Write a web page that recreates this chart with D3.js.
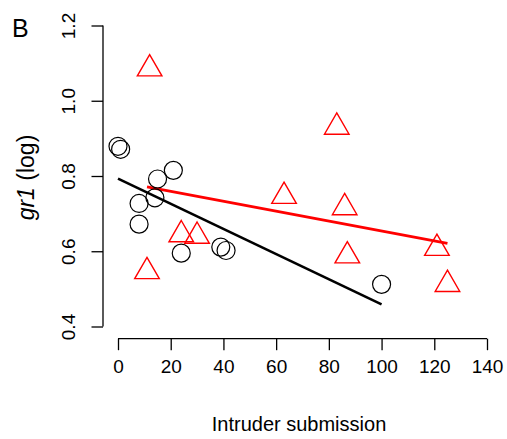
<html><head>
<script src="https://d3js.org/d3.v7.min.js"></script>
<style>
  body { margin: 0; background: #fff; }
  text { font-family: "Liberation Sans", Arial, sans-serif; }
</style>
</head>
<body>
<svg id="chart" width="507" height="439"></svg>
<script>
// submission (x) and gr1 (log) values
const circleX = [0, 1, 21, 15, 14, 8, 8, 24, 39, 41, 100];
const circleY = [0.879, 0.871, 0.815, 0.792, 0.742, 0.727, 0.672, 0.595, 0.611, 0.602, 0.512];
const triX = [12, 83, 63, 86, 87, 121, 125, 11, 24, 30];
const triY = [1.085, 0.93, 0.746, 0.716, 0.588, 0.608, 0.512, 0.546, 0.644, 0.64];
// fitted lines: [x0, y0, x1, y1]
const blackFit = [0, 0.793, 100, 0.459];
const redFit = [11, 0.771, 125, 0.621];
const xTicks = [0, 20, 40, 60, 80, 100, 120, 140];
const yTicks = [0.4, 0.6, 0.8, 1.0, 1.2];

const svg = d3.select("#chart");
const x = d3.scaleLinear().domain([0, 140]).range([118, 487]);
const y = d3.scaleLinear().domain([0.4, 1.2]).range([326.5, 25.5]);

// x axis (R style, detached)
const xAxis = svg.append("g").attr("transform", "translate(0,338.7)")
    .call(d3.axisBottom(x).tickValues(xTicks).tickSize(11.5).tickPadding(9).tickSizeOuter(0)
        .tickFormat(d3.format("d")));
xAxis.select(".domain").attr("d", `M${x(0)},0H${x(140)}`);
xAxis.selectAll("line, path").attr("stroke", "#000").attr("stroke-width", 1.3);
xAxis.selectAll("text").attr("font-size", 19).attr("font-family", "Liberation Sans, Arial, sans-serif")
    .attr("fill", "#000");

// y axis with rotated labels
const yAxis = svg.append("g").attr("transform", "translate(103,0)")
    .call(d3.axisLeft(y).tickValues(yTicks).tickSize(11.5).tickSizeOuter(0).tickFormat(d3.format(".1f")));
yAxis.select(".domain").attr("d", `M0,${y(0.4)}V${y(1.2)}`);
yAxis.selectAll("line, path").attr("stroke", "#000").attr("stroke-width", 1.3);
yAxis.selectAll("text")
    .attr("font-size", 19).attr("font-family", "Liberation Sans, Arial, sans-serif").attr("fill", "#000")
    .attr("text-anchor", "middle").attr("dy", null).attr("x", null)
    .attr("transform", "translate(-28,0) rotate(-90)");

// fit lines
svg.append("line")
    .attr("x1", x(blackFit[0])).attr("y1", y(blackFit[1]))
    .attr("x2", x(blackFit[2])).attr("y2", y(blackFit[3]))
    .attr("stroke", "#000").attr("stroke-width", 2.6);
svg.append("line")
    .attr("x1", x(redFit[0])).attr("y1", y(redFit[1]))
    .attr("x2", x(redFit[2])).attr("y2", y(redFit[3]))
    .attr("stroke", "#ff0000").attr("stroke-width", 2.8);

// circles
svg.append("g").selectAll("circle").data(circleX)
    .join("circle")
    .attr("cx", d => x(d))
    .attr("cy", (d, i) => y(circleY[i]))
    .attr("r", 9)
    .attr("fill", "none").attr("stroke", "#000").attr("stroke-width", 1.2);

// triangles (R pch 2)
const r = 14.2;
const tri = `M0,${-r}L${r * 0.866},${r / 2}L${-r * 0.866},${r / 2}Z`;
svg.append("g").selectAll("path").data(triX)
    .join("path")
    .attr("d", tri)
    .attr("transform", (d, i) => `translate(${x(d)},${y(triY[i])})`)
    .attr("fill", "none").attr("stroke", "#ff0000").attr("stroke-width", 1.4);

// titles
svg.append("text").attr("x", 299).attr("y", 431).attr("text-anchor", "middle")
    .attr("font-size", 20).text("Intruder submission");
const yt = svg.append("text").attr("text-anchor", "middle").attr("font-size", 23)
    .attr("transform", "translate(34,177.5) rotate(-90)");
yt.append("tspan").attr("font-style", "italic").text("gr1");
yt.append("tspan").text(" (log)");
svg.append("text").attr("x", 12).attr("y", 37).attr("font-size", 25).text("B");
</script>
</body>
</html>
